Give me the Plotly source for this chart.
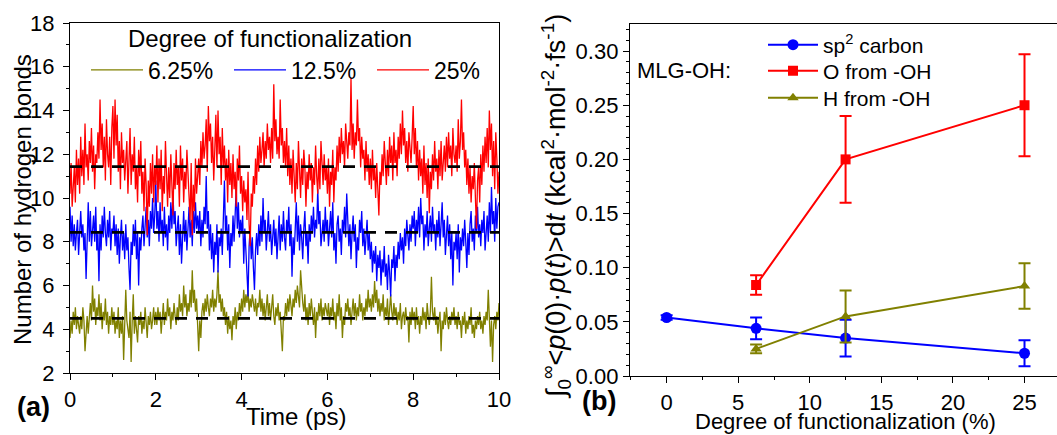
import plotly.graph_objects as go

# ---------------- Panel (a) data: number of hydrogen bonds vs time (0-10 ps) ----------------
hb_25 = [
    10.2, 11.6, 9.6, 10.8, 11.4, 9.8, 12.2, 10.6, 11.8, 10.2, 12.8, 11.0, 12.2, 10.6, 13.4, 11.4, 12.0, 10.8, 12.6, 11.6,
    13.2, 11.2, 12.4, 10.4, 12.0, 11.6, 13.0, 11.8, 14.5, 12.2, 13.4, 11.4, 12.8, 10.8, 13.6, 12.0, 11.4, 12.8, 10.6, 13.2,
    14.2, 11.8, 14.5, 12.4, 13.8, 11.2, 12.6, 10.4, 13.0, 11.6, 12.2, 10.8, 11.6, 12.6, 10.2, 11.8, 13.2, 10.6, 12.0, 11.2,
    12.8, 10.4, 11.4, 9.8, 12.2, 11.0, 12.6, 10.2, 11.2, 9.4, 11.8, 10.6, 8.3, 10.8, 9.6, 11.6, 10.2, 12.0, 9.8, 11.4,
    10.6, 12.4, 9.8, 11.8, 10.4, 12.2, 9.4, 11.0, 10.2, 12.6, 11.0, 9.6, 11.4, 10.0, 12.0, 10.8, 9.2, 11.6, 10.4, 12.2,
    10.6, 11.4, 9.6, 12.4, 10.8, 11.8, 9.8, 11.2, 10.4, 12.2, 11.0, 10.0, 9.0, 11.6, 8.3, 10.6, 9.4, 11.8, 10.2, 11.0,
    11.8, 10.6, 12.6, 11.4, 13.0, 11.8, 12.4, 13.6, 11.2, 14.2, 12.6, 13.4, 11.6, 12.8, 10.8, 12.2, 13.8, 11.4, 14.0, 12.0,
    12.8, 10.6, 13.2, 11.4, 12.4, 10.8, 11.8, 9.8, 12.2, 10.6, 11.6, 10.0, 12.0, 10.4, 11.2, 9.6, 11.8, 10.8, 12.4, 10.2,
    11.0, 9.4, 10.8, 9.8, 10.4, 9.0, 11.2, 8.8, 7.8, 10.2, 9.6, 11.0, 10.2, 11.8, 10.6, 12.4, 11.2, 12.8, 11.6, 12.2,
    13.0, 11.4, 12.6, 11.8, 13.4, 12.2, 12.8, 11.6, 13.2, 11.8, 15.2, 12.6, 13.6, 12.0, 12.8, 11.8, 14.5, 12.4, 13.2, 11.6,
    12.6, 11.4, 13.2, 11.0, 12.4, 10.6, 11.8, 10.2, 12.2, 11.0, 9.8, 11.6, 10.4, 12.6, 11.2, 10.0, 11.8, 10.6, 12.2, 11.4,
    9.6, 11.2, 10.4, 12.0, 10.8, 11.6, 9.8, 11.4, 10.6, 12.4, 11.0, 10.2, 11.8, 10.4, 12.6, 11.2, 10.6, 12.0, 10.8, 11.4,
    10.2, 11.8, 9.6, 11.2, 10.6, 12.2, 9.8, 11.4, 10.8, 12.4, 11.2, 12.8, 11.6, 13.2, 12.0, 12.6, 11.4, 13.4, 12.2, 11.8,
    13.0, 12.4, 15.5, 12.2, 13.4, 11.8, 13.0, 12.4, 14.5, 12.6, 13.2, 11.4, 12.8, 11.8, 12.2, 10.8, 12.6, 11.2, 12.0, 10.6,
    11.8, 10.4, 12.2, 10.8, 11.4, 10.0, 11.6, 9.8, 9.2, 11.2, 10.6, 12.0, 11.0, 12.6, 11.4, 10.6, 12.2, 11.0, 12.8, 11.6,
    12.4, 10.8, 13.0, 11.6, 12.2, 11.0, 12.8, 11.8, 13.4, 12.0, 14.0, 12.4, 13.2, 11.6, 12.6, 11.2, 13.0, 12.2, 11.6, 12.8,
    14.2, 12.0, 13.2, 11.4, 12.6, 10.8, 12.2, 11.0, 11.8, 10.2, 12.4, 10.6, 11.6, 10.0, 11.8, 9.3, 11.2, 10.4, 12.0, 10.8,
    12.6, 11.2, 11.8, 10.4, 12.2, 11.0, 12.6, 10.8, 11.6, 12.4, 11.2, 12.8, 11.4, 13.0, 11.8, 12.4, 11.0, 13.2, 12.0, 11.6,
    12.4, 11.2, 13.6, 11.8, 12.6, 14.5, 12.2, 13.0, 11.4, 12.2, 10.6, 11.8, 10.2, 11.4, 9.8, 11.0, 10.4, 11.6, 10.0, 8.6,
    10.8, 11.4, 9.8, 12.0, 10.6, 12.4, 11.2, 12.8, 11.6, 13.2, 11.4, 14.0, 12.2, 13.4, 11.0, 12.6, 10.4, 13.0, 11.8, 10.2,
    11.2,
]

hb_12_5 = [
    9.6, 8.0, 9.2, 7.8, 8.8, 7.6, 8.4, 9.0, 7.4, 8.6, 9.4, 8.2, 8.8, 7.6, 8.4, 6.3, 8.6, 9.8, 8.0, 9.4,
    7.8, 8.6, 9.2, 8.0, 9.6, 7.6, 8.4, 6.2, 8.8, 7.6, 9.2, 8.2, 9.6, 8.4, 7.8, 9.0, 8.2, 9.4, 7.6, 8.6,
    8.4, 9.2, 7.8, 8.8, 7.4, 8.6, 7.0, 8.2, 9.0, 7.6, 8.4, 7.2, 8.8, 7.6, 8.2, 6.8, 5.8, 8.0, 7.4, 8.8,
    7.8, 9.0, 7.2, 8.4, 6.0, 8.2, 7.6, 8.6, 9.2, 7.8, 8.8, 9.6, 8.2, 9.0, 7.8, 9.4, 8.6, 10.0, 8.4, 9.2,
    10.8, 8.6, 9.4, 8.0, 9.8, 8.4, 9.0, 7.8, 9.6, 8.2, 8.8, 7.6, 9.2, 8.4, 9.8, 8.6, 10.3, 8.8, 9.4, 7.8,
    8.6, 9.2, 7.4, 8.8, 7.0, 8.4, 9.4, 8.0, 9.0, 7.6, 8.8, 9.6, 8.2, 9.0, 7.8, 9.4, 8.4, 9.8, 8.6, 9.2,
    8.4, 9.4, 7.8, 9.0, 8.2, 9.6, 8.8, 11.0, 8.6, 9.4, 7.6, 8.8, 7.2, 8.4, 6.6, 8.0, 7.4, 8.8, 6.6, 8.2,
    7.8, 8.6, 7.4, 9.0, 10.8, 8.4, 9.2, 7.6, 8.8, 6.8, 8.4, 7.8, 9.2, 8.0, 9.6, 10.5, 8.6, 9.8, 8.2, 9.0,
    8.4, 9.2, 7.0, 8.6, 7.6, 6.4, 5.5, 7.8, 8.6, 7.2, 8.2, 6.8, 5.8, 7.6, 8.4, 7.4, 8.8, 7.8, 9.2, 8.0,
    10.0, 8.4, 9.0, 7.6, 8.6, 9.4, 8.0, 8.8, 7.4, 8.2, 9.0, 7.8, 8.6, 7.2, 8.4, 9.2, 7.6, 8.8, 8.0, 9.4,
    8.2, 7.6, 9.0, 8.4, 9.6, 7.8, 8.8, 6.4, 8.2, 7.4, 8.6, 9.8, 8.0, 9.2, 7.6, 8.8, 8.2, 7.2, 8.6, 9.4,
    7.8, 8.4, 7.0, 8.8, 8.0, 9.2, 8.4, 9.6, 8.2, 9.0, 8.6, 10.4, 8.8, 9.4, 7.8, 8.6, 9.0, 8.0, 9.6, 8.4,
    9.0, 7.8, 8.6, 9.4, 8.2, 9.8, 7.6, 8.4, 7.0, 8.8, 9.2, 8.0, 8.6, 7.4, 9.0, 8.4, 9.6, 8.2, 10.2, 8.6,
    7.8, 8.8, 7.2, 8.4, 9.2, 8.0, 8.8, 6.8, 8.2, 7.6, 9.0, 8.4, 9.4, 7.8, 8.6, 7.4, 8.2, 9.0, 7.6, 8.4,
    7.2, 8.0, 6.6, 7.6, 7.0, 7.8, 6.2, 7.4, 6.8, 7.6, 6.0, 7.2, 6.6, 7.8, 6.4, 7.0, 5.8, 7.4, 6.6, 5.5,
    7.2, 6.8, 7.8, 6.2, 7.4, 6.8, 8.0, 7.2, 8.4, 7.6, 8.2, 7.0, 8.6, 7.8, 9.0, 8.2, 7.6, 8.8, 8.0, 9.2,
    8.6, 9.4, 7.8, 9.0, 8.4, 9.6, 8.2, 10.0, 8.8, 9.2, 7.6, 8.8, 8.2, 9.4, 7.8, 8.6, 9.2, 8.0, 9.6, 8.4,
    8.8, 7.6, 9.0, 8.2, 9.4, 7.8, 8.6, 9.8, 8.2, 9.0, 7.4, 8.4, 9.2, 7.8, 8.8, 7.2, 8.4, 6.0, 8.0, 7.6,
    8.4, 7.2, 8.8, 6.6, 8.2, 7.6, 8.6, 7.8, 9.0, 8.0, 6.8, 8.4, 7.4, 8.8, 9.4, 8.0, 8.6, 7.6, 9.2, 8.4,
    9.6, 8.2, 8.8, 7.8, 9.0, 8.4, 9.4, 7.6, 8.6, 9.2, 8.0, 9.8, 8.4, 10.5, 8.8, 9.4, 8.0, 10.0, 8.6, 9.6,
    9.8,
]

hb_6_25 = [
    3.6, 4.4, 3.8, 4.8, 4.2, 5.0, 4.0, 4.6, 4.2, 3.8, 4.6, 4.0, 5.0, 4.4, 3.0, 4.2, 4.6, 3.8, 4.8, 5.2,
    4.4, 6.0, 4.8, 5.4, 4.2, 5.0, 4.6, 5.6, 4.4, 5.2, 4.0, 4.8, 4.4, 5.4, 4.2, 4.8, 3.8, 4.6, 4.2, 5.0,
    4.2, 4.8, 3.8, 4.4, 4.0, 5.0, 3.6, 4.4, 3.8, 4.6, 2.6, 4.2, 5.8, 4.4, 4.0, 3.6, 4.8, 2.5, 4.4, 5.6,
    3.8, 4.6, 4.0, 3.4, 4.6, 4.2, 4.8, 3.8, 4.4, 4.0, 5.0, 4.2, 3.6, 4.6, 4.2, 4.8, 4.0, 4.4, 5.0, 4.2,
    4.8, 4.2, 5.0, 4.4, 4.8, 3.8, 4.6, 5.2, 4.2, 4.8, 4.4, 5.4, 4.6, 5.0, 4.0, 4.8, 4.4, 5.2, 4.6, 4.2,
    5.0, 4.4, 5.6, 4.8, 5.2, 4.6, 6.0, 5.0, 5.6, 4.6, 5.2, 4.8, 5.8, 5.0, 6.7, 5.2, 5.8, 4.8, 5.4, 4.4,
    3.0, 4.4, 3.6, 4.8, 5.2, 4.6, 5.4, 4.8, 5.6, 5.0, 4.6, 5.4, 5.0, 5.8, 4.8, 5.4, 5.0, 5.6, 6.7, 5.2,
    5.6, 4.8, 5.4, 4.6, 5.0, 4.2, 4.8, 3.8, 4.6, 4.0, 4.4, 3.5, 4.6, 4.2, 5.0, 4.0, 4.8, 4.4, 5.2, 4.6,
    5.4, 4.8, 5.8, 5.0, 5.6, 5.2, 5.8, 4.8, 5.4, 5.0, 5.6, 5.2, 4.8, 5.4, 4.6, 5.2, 5.0, 5.8, 4.8, 5.4,
    4.6, 5.2, 4.4, 5.0, 5.6, 4.6, 5.2, 4.4, 5.0, 5.6, 4.6, 4.2, 5.0, 4.6, 5.2, 4.4, 4.8, 4.0, 3.0, 4.6,
    4.4, 5.2, 4.6, 5.4, 4.8, 5.6, 5.0, 4.6, 5.4, 5.0, 5.8, 5.2, 6.0, 5.4, 5.0, 6.7, 5.6, 5.2, 4.8, 5.6,
    4.4, 5.0, 4.2, 5.2, 4.6, 5.4, 4.8, 4.2, 5.0, 3.6, 4.8, 4.4, 5.2, 4.6, 5.4, 4.4, 5.0, 4.6, 5.2, 4.8,
    4.6, 5.2, 4.2, 5.0, 4.6, 5.4, 4.4, 4.8, 4.0, 5.2, 4.6, 5.6, 4.4, 5.0, 3.6, 4.6, 4.2, 5.2, 4.8, 5.4,
    4.6, 5.0, 4.2, 4.8, 5.4, 4.6, 5.2, 4.4, 5.0, 4.6, 5.6, 4.8, 5.2, 4.4, 5.0, 4.6, 5.4, 4.8, 5.8, 5.0,
    5.4, 4.8, 5.6, 5.0, 6.2, 5.2, 5.8, 4.8, 5.4, 4.6, 5.2, 4.8, 5.6, 4.4, 5.0, 4.6, 5.4, 4.2, 5.0, 5.6,
    4.8, 4.4, 5.2, 4.6, 5.0, 4.2, 4.8, 4.4, 5.2, 4.0, 4.6, 4.8, 4.2, 5.0, 4.4, 4.6, 3.4, 4.8, 4.2, 5.0,
    4.4, 4.8, 4.0, 5.0, 4.2, 4.6, 3.8, 4.6, 4.2, 5.0, 4.4, 4.8, 4.0, 5.2, 4.6, 4.2, 4.8, 6.4, 4.8, 4.4,
    5.0, 4.2, 4.6, 3.8, 4.4, 4.8, 3.0, 4.4, 4.0, 4.8, 4.2, 5.0, 4.4, 4.0, 4.6, 4.2, 4.8, 4.4, 5.0, 4.2,
    4.6, 4.0, 4.8, 4.2, 4.4, 3.6, 4.6, 4.2, 4.8, 3.8, 4.4, 4.0, 4.6, 4.2, 5.0, 3.8, 4.2, 3.6, 4.4, 4.0,
    4.6, 4.2, 4.8, 4.0, 4.4, 3.8, 4.6, 4.2, 4.8, 4.4, 5.8, 4.6, 3.2, 4.4, 2.5, 4.2, 4.6, 4.0, 4.8, 4.4,
    5.2,
]

series_names = ["6.25%", "12.5%", "25%"]
mean_values = [4.5, 8.43, 11.43]   # dashed average lines
time_range = [0, 10]               # ps

# ---------------- Panel (b) data ----------------
sp2_x = [0, 6.25, 12.5, 25]
sp2_y = [0.054, 0.044, 0.035, 0.021]
sp2_err = [0.002, 0.010, 0.017, 0.012]

o_x = [6.25, 12.5, 25]
o_y = [0.084, 0.200, 0.250]
o_err = [0.009, 0.040, 0.047]

h_x = [6.25, 12.5, 25]
h_y = [0.025, 0.055, 0.083]
h_err = [0.004, 0.024, 0.021]

RED = "#FF0000"
BLUE = "#0000FF"
OLIVE = "#808000"
FONT = "Arial, Liberation Sans, sans-serif"
W, H = 1057, 435


def px_x(p):
    return p / W


def px_y(p):
    return 1 - p / H


def times_for(ys):
    n = len(ys)
    return [time_range[0] + (time_range[1] - time_range[0]) * i / (n - 1) for i in range(n)]


fig = go.Figure()

# panel (a)
for name, ys, col in [(series_names[0], hb_6_25, OLIVE), (series_names[1], hb_12_5, BLUE),
                      (series_names[2], hb_25, RED)]:
    fig.add_trace(go.Scatter(x=times_for(ys), y=ys, mode="lines", name=name,
                             line=dict(color=col, width=1.3), xaxis="x", yaxis="y",
                             legend="legend"))
for m in mean_values:
    fig.add_trace(go.Scatter(x=time_range, y=[m, m], mode="lines",
                             line=dict(color="black", width=2.8, dash="12px,9px"),
                             showlegend=False, xaxis="x", yaxis="y", hoverinfo="skip"))

# panel (b)
err_style = dict(type="data", visible=True, thickness=2, width=6)
fig.add_trace(go.Scatter(x=sp2_x, y=sp2_y, mode="lines+markers", name="sp<sup>2</sup> carbon",
                         line=dict(color=BLUE, width=2), marker=dict(symbol="circle", size=11, color=BLUE),
                         error_y=dict(array=sp2_err, color=BLUE, **err_style),
                         xaxis="x2", yaxis="y2", legend="legend2"))
fig.add_trace(go.Scatter(x=o_x, y=o_y, mode="lines+markers", name="O from -OH",
                         line=dict(color=RED, width=2), marker=dict(symbol="square", size=10, color=RED),
                         error_y=dict(array=o_err, color=RED, **err_style),
                         xaxis="x2", yaxis="y2", legend="legend3"))
fig.add_trace(go.Scatter(x=h_x, y=h_y, mode="lines+markers", name="H from -OH",
                         line=dict(color=OLIVE, width=2), marker=dict(symbol="triangle-up", size=10, color=OLIVE),
                         error_y=dict(array=h_err, color=OLIVE, **err_style),
                         xaxis="x2", yaxis="y2", legend="legend4"))

minor_out = dict(ticks="outside", ticklen=3, tickcolor="black", tickwidth=1.3)
axis_common = dict(showline=True, linecolor="black", linewidth=1.3, ticks="outside",
                   tickcolor="black", tickwidth=1.3, ticklen=6, showgrid=False, zeroline=False,
                   automargin=False, tickfont=dict(family=FONT, size=22, color="black"))
top_ticks = dict(side="top", ticks="inside", ticklen=4, tickcolor="black", tickwidth=1.3,
                 showticklabels=False, showgrid=False, zeroline=False, showline=False, automargin=False)

left_dom = [px_x(70), px_x(499)]
right_dom = [px_x(630), 1.0]
a_ydom = [px_y(373), px_y(23)]
b_ydom = [px_y(376), px_y(24)]

fig.update_layout(
    width=W, height=H,
    margin=dict(l=0, r=0, t=0, b=0),
    paper_bgcolor="white", plot_bgcolor="white",
    font=dict(family=FONT, color="black"),
    xaxis=dict(domain=left_dom, range=time_range, dtick=2, anchor="y", mirror=True,
               minor=dict(dtick=1, **minor_out), **axis_common),
    yaxis=dict(domain=a_ydom, range=[2, 18], dtick=2, anchor="x", mirror=True, ticklabelstandoff=4,
               minor=dict(dtick=1, **minor_out), **axis_common),
    xaxis3=dict(domain=left_dom, range=time_range, dtick=1, overlaying="x", anchor="y", **top_ticks),
    xaxis2=dict(domain=right_dom, range=[-2.56, 27.27], dtick=5, anchor="y2", mirror=True,
                minor=dict(dtick=2.5, **minor_out), **axis_common),
    yaxis2=dict(domain=b_ydom, range=[0, 0.325], dtick=0.05, tickformat=".2f", anchor="x2",
                minor=dict(dtick=0.01, **minor_out), **axis_common),
    xaxis4=dict(domain=right_dom, range=[-2.56, 27.27], dtick=2.5, tick0=0, overlaying="x2",
                anchor="y2", **top_ticks),
    legend=dict(orientation="h", x=px_x(86), y=px_y(70), xanchor="left", yanchor="middle",
                bgcolor="rgba(0,0,0,0)", font=dict(family=FONT, size=23, color="black"),
                itemwidth=52, entrywidth=76, entrywidthmode="pixels", tracegroupgap=0),
    showlegend=True,
)

legend_rows_y = [45, 71, 98]
for key, yrow in zip(["legend2", "legend3", "legend4"], legend_rows_y):
    fig.update_layout({key: dict(orientation="v", x=px_x(763), y=px_y(yrow), xanchor="left",
                                 yanchor="middle", bgcolor="rgba(0,0,0,0)",
                                 font=dict(family=FONT, size=21, color="black"), itemwidth=50)})

ann = [
    dict(text="Degree of functionalization", x=270, y=38, angle=0, size=24),
    dict(text="Number of hydrogen bonds", x=22, y=200, angle=-90, size=24),
    dict(text="Time (ps)", x=296, y=416, angle=0, size=24),
    dict(text="<b>(a)</b>", x=33, y=407, angle=0, size=27),
    dict(text="Degree of functionalization (%)", x=845, y=421, angle=0, size=22),
    dict(text="<b>(b)</b>", x=599, y=401, angle=0, size=27),
    dict(text="MLG-OH:", x=684, y=71, angle=0, size=22),
    dict(text="∫<sub>0</sub><sup>∞</sup><<i>p</i>(0)·<i>p</i>(<i>t</i>)>d<i>t</i> (kcal<sup>2</sup>·mol<sup>-2</sup>·fs<sup>-1</sup>)",
         x=556, y=207, angle=-90, size=27),
]
for a in ann:
    fig.add_annotation(text=a["text"], x=px_x(a["x"]), y=px_y(a["y"]), xref="paper", yref="paper",
                       showarrow=False, textangle=a["angle"], xanchor="center", yanchor="middle",
                       font=dict(family=FONT, size=a["size"], color="black"))

fig.write_html("out.html")
